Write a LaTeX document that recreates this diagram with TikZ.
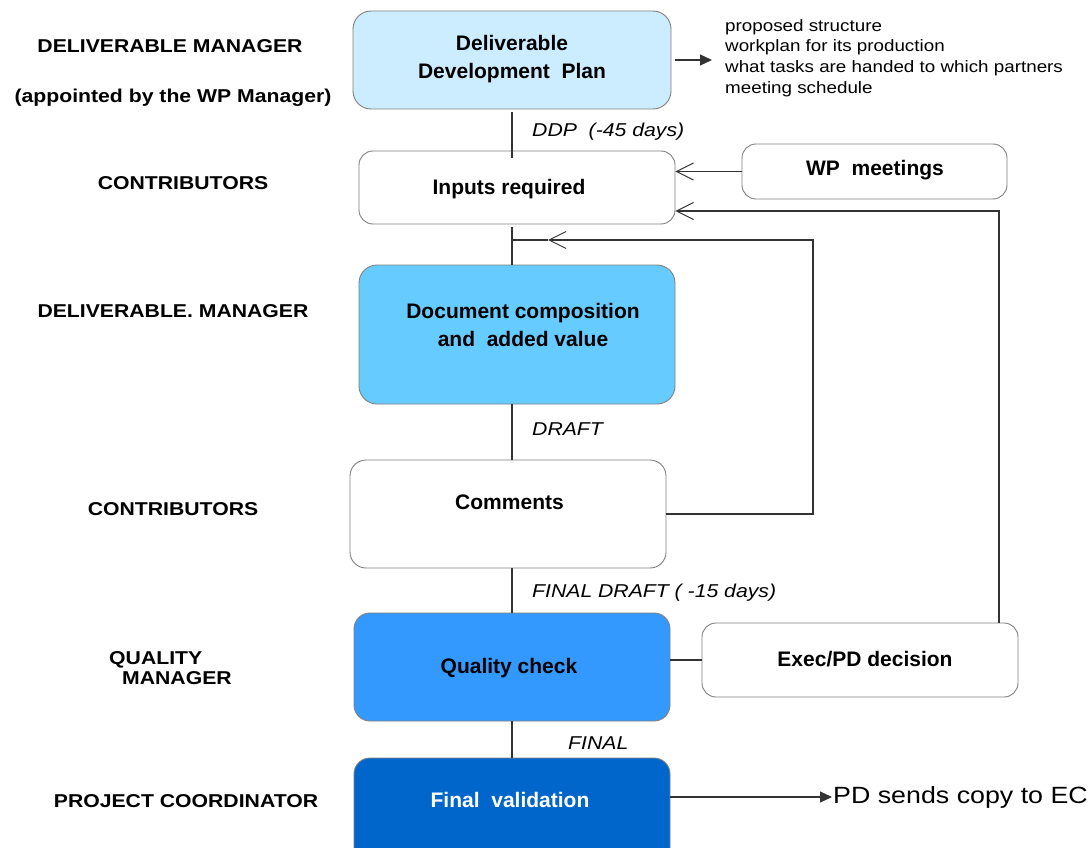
\documentclass[tikz,border=0pt]{standalone}
\usepackage{fontspec}
\setmainfont{Liberation Sans}
\newfontfamily\stretchfont[FakeStretch=1.14]{Liberation Sans}
\usetikzlibrary{arrows.meta,calc}
\definecolor{ddpfill}{HTML}{CCECFF}
\definecolor{docfill}{HTML}{66CCFF}
\definecolor{qcfill}{HTML}{3399FF}
\definecolor{fvfill}{HTML}{0066CC}
\definecolor{boxgray}{HTML}{808080}
\definecolor{linegray}{HTML}{333333}
\begin{document}
\begin{tikzpicture}[x=1pt,y=-1pt,
  box/.style={draw=boxgray, line width=0.9pt, rounded corners=14pt, inner sep=0pt},
  boxtxt/.style={font=\fontsize{21}{28}\selectfont\bfseries, align=center, inner sep=0pt},
  role/.style={font=\stretchfont\fontsize{18.6}{20}\selectfont\bfseries, inner sep=0pt, anchor=base},
  phase/.style={font=\stretchfont\fontsize{18.6}{20}\selectfont\itshape, inner sep=0pt, anchor=base west},
  conn/.style={line width=1.1pt, draw=linegray},
  barb/.style={-{Straight Barb[length=17pt,width=17pt,line width=1pt]}},
  tri/.style={-{Triangle[length=12pt,width=11pt]}}
]
\useasboundingbox (0,0) rectangle (1090,848);
\fill[white] (0,0) rectangle (1090,848);
\clip (0,0) rectangle (1090,848);

% boxes
\node[box, fill=ddpfill, rounded corners=18pt, minimum width=318pt, minimum height=98pt] (ddp) at (512,60) {};
\node[box, minimum width=316pt, minimum height=73pt] (inp) at (517,187.5) {};
\node[box, minimum width=265pt, minimum height=55pt] (wpm) at (874.5,171.5) {};
\node[box, fill=docfill, rounded corners=18pt, minimum width=316pt, minimum height=139pt] (doc) at (517,334.5) {};
\node[box, rounded corners=16pt, minimum width=316pt, minimum height=108pt] (com) at (508,514) {};
\node[box, fill=qcfill, rounded corners=16pt, minimum width=316pt, minimum height=108pt] (qc) at (512,667) {};
\node[box, minimum width=316pt, minimum height=74pt] (exec) at (860,660) {};
\node[box, fill=fvfill, rounded corners=16pt, minimum width=316pt, minimum height=112pt] (fv) at (512,814) {};

% box texts
\node[boxtxt] (ddpt) at (512,59) {Deliverable\\Development\ \ Plan};
\node[boxtxt, anchor=base] (inpt) at (509,194.5) {Inputs required};
\node[boxtxt, anchor=base] (wpmt) at (875,175.5) {WP\ \ meetings};
\node[boxtxt] (doct) at (523,325) {Document composition\\and\ \ added value};
\node[boxtxt, anchor=base] (comt) at (509.5,509.5) {Comments};
\node[boxtxt, anchor=base] (qct) at (509,673.5) {Quality check};
\node[boxtxt, anchor=base] (exect) at (865,666.5) {Exec/PD decision};
\node[boxtxt, anchor=base, text=white] (fvt) at (510,807.5) {Final\ \ validation};

% notes
\node[font=\stretchfont\fontsize{16.5}{20.7}\selectfont, align=left, anchor=west, inner sep=0pt] (notes) at (725,58) {proposed structure\\workplan for its production\\what tasks are handed to which partners\\meeting schedule};
\node[font=\stretchfont\fontsize{23.5}{28}\selectfont, anchor=west, inner sep=0pt] (pd) at (833,797) {PD sends copy to EC};

% role labels
\node[role] (r1) at (170,52.7) {DELIVERABLE MANAGER};
\node[role] (r2) at (173,102.7) {(appointed by the WP Manager)};
\node[role] (r3) at (183,189.7) {CONTRIBUTORS};
\node[role] (r4) at (173,317.7) {DELIVERABLE. MANAGER};
\node[role] (r5) at (173,515.7) {CONTRIBUTORS};
\node[role, anchor=base west] (r6a) at (109,664.7) {QUALITY};
\node[role, anchor=base west] (r6b) at (122,684.7) {MANAGER};
\node[role] (r7) at (186,807.7) {PROJECT COORDINATOR};

% phase labels
\node[phase] (p1) at (532,137) {DDP\ \ (-45 days)};
\node[phase] (p2) at (532,435) {DRAFT};
\node[phase] (p3) at (532,597) {FINAL DRAFT ( -15 days)};
\node[phase] (p4) at (568,749) {FINAL};

% spine
\draw[conn] ([yshift=-3pt]ddp.south) -- ([yshift=-7pt]ddp.south |- inp.north);
\draw[conn] ([yshift=-3pt]ddp.south |- inp.south) -- (ddp.south |- doc.north);
\draw[conn] (ddp.south |- doc.south) -- (ddp.south |- com.north);
\draw[conn] (ddp.south |- com.south) -- (qc.north);
\draw[conn] (qc.south) -- (fv.north);

% feedback loop from comments
\coordinate (loopr) at (813,240);
\coordinate (loopm) at (548,240);
\draw[conn, barb] (com.east) -| (loopr) -- (loopm);
\draw[conn] (loopm) -- (loopm -| ddp.south);

% WP meetings and exec decision into inputs
\draw[conn, barb] (wpm.west) -- (wpm.west -| inp.east);
\coordinate (exr) at (999,211);
\draw[conn, barb] (exec.north -| exr) -- (exr) -- (exr -| inp.east);
\draw[conn] (exec.west -| qc.east) -- (exec.west);

% outputs
\draw[conn, tri] ([xshift=4pt]ddp.east) -- ([xshift=-13pt]notes.west |- ddp.east);
\draw[conn, tri] (pd.west -| fv.east) -- ([xshift=-1pt]pd.west);
\end{tikzpicture}
\end{document}
